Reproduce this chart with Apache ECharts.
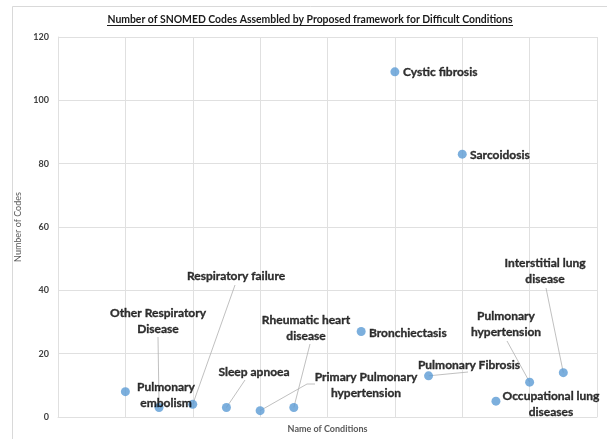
<!DOCTYPE html>
<html>
<head>
<meta charset="utf-8">
<script src="https://cdn.jsdelivr.net/npm/echarts@6/dist/echarts.min.js"></script>
<style>
  html, body { margin: 0; padding: 0; background: #fff; }
  #chart { width: 607px; height: 439px; }
</style>
</head>
<body>
<div id="chart"></div>
<script>
// values
const conditions = [
  'Pulmonary embolism', 'Other Respiratory Disease', 'Respiratory failure', 'Sleep apnoea',
  'Primary Pulmonary hypertension', 'Rheumatic heart disease', 'Bronchiectasis', 'Cystic fibrosis',
  'Pulmonary Fibrosis', 'Sarcoidosis', 'Occupational lung diseases', 'Pulmonary hypertension',
  'Interstitial lung disease'
]
const xIndex = [2, 3, 4, 5, 6, 7, 9, 10, 11, 12, 13, 14, 15]
const codes  = [8, 3, 4, 3, 2, 3, 27, 109, 13, 83, 5, 11, 14]
const labelText = [
  'Pulmonary\nembolism', 'Other Respiratory\nDisease', 'Respiratory failure', 'Sleep apnoea',
  'Primary Pulmonary\nhypertension', 'Rheumatic heart\ndisease', 'Bronchiectasis', 'Cystic fibrosis',
  'Pulmonary Fibrosis', 'Sarcoidosis', 'Occupational lung\ndiseases', 'Pulmonary\nhypertension',
  'Interstitial lung\ndisease'
]

// label anchor (px) + alignment, and leader end next to the label (null = no leader)
const labelPlace = [
  [166, 395, 'center', null],
  [158, 321, 'center', [[158, 337]]],
  [236, 276, 'center', [[235, 285]]],
  [254, 372, 'center', [[245, 380]]],
  [366, 385, 'center', [[315, 384], [307, 384]]],
  [306, 328, 'center', [[310, 344]]],
  [369, 333, 'left', null],
  [403, 72, 'left', null],
  [469, 365, 'center', [[468, 372]]],
  [470, 155, 'left', null],
  [551, 404, 'center', null],
  [506, 324, 'center', [[507, 341]]],
  [545, 271, 'center', [[546, 288]]]
]

const TITLE = 'Number of SNOMED Codes Assembled by Proposed framework for Difficult Conditions'
const FONT = 'Lato'

// fit title to the width it has in the reference
const ctx = document.createElement('canvas').getContext('2d')
ctx.font = 'bold 11px ' + FONT
const titleSize = 11 * 406 / ctx.measureText(TITLE).width

const chart = echarts.init(document.getElementById('chart'), null, { renderer: 'canvas' })

const gridColor = '#e0e0e0'

const baseGraphic = [
  {
    type: 'rect', silent: true,
    shape: { x: 12.5, y: 6.5, width: 640, height: 480 },
    style: { fill: 'none', stroke: '#d9d9d9', lineWidth: 1 }
  },
  {
    type: 'text', x: 310, y: 20,
    style: {
      text: TITLE, fontFamily: FONT, fontWeight: 'bold', fontSize: titleSize,
      fill: '#1a1a1a', align: 'center', verticalAlign: 'middle'
    }
  },
  {
    type: 'line', silent: true,
    shape: { x1: 107, y1: 25.5, x2: 513, y2: 25.5 },
    style: { stroke: '#1a1a1a', lineWidth: 1 }
  }
]

chart.setOption({
  backgroundColor: '#fff',
  animation: false,
  textStyle: { fontFamily: FONT },
  grid: { left: 58, right: 10, top: 37, bottom: 21 },
  graphic: baseGraphic,
  xAxis: {
    type: 'value', min: 0, max: 16, interval: 2,
    name: 'Name of Conditions', nameLocation: 'middle', nameGap: 8,
    nameTextStyle: { fontSize: 9, color: '#595959', fontWeight: 'bold' },
    axisLine: { show: true, lineStyle: { color: gridColor } },
    axisTick: { show: false },
    axisLabel: { show: false },
    splitLine: { show: true, lineStyle: { color: gridColor, width: 1 } }
  },
  yAxis: {
    type: 'value', min: 0, max: 120, interval: 20,
    name: 'Number of Codes', nameLocation: 'middle', nameGap: 28,
    nameTextStyle: { fontSize: 9, color: '#595959' },
    axisLine: { show: true, lineStyle: { color: gridColor } },
    axisTick: { show: false },
    axisLabel: { fontSize: 9, color: '#404040', margin: 9, fontWeight: 'bold' },
    splitLine: { show: true, lineStyle: { color: gridColor, width: 1 } }
  },
  series: [{
    type: 'scatter',
    symbolSize: 9,
    z: 3,
    itemStyle: { color: '#5b9bd5' },
    data: conditions.map((name, i) => ({ name, value: [xIndex[i], codes[i]] })),
    label: {
      show: true,
      formatter: p => labelText[p.dataIndex],
      fontFamily: FONT,
      fontWeight: 'bold',
      fontSize: 12,
      lineHeight: 16,
      color: '#000',
      textBorderColor: '#000',
      textBorderWidth: 0.35
    },
    labelLayout: p => {
      const pl = labelPlace[p.dataIndex]
      return { x: pl[0], y: pl[1], align: pl[2], verticalAlign: 'middle' }
    }
  }]
})

// leader lines: from beside the label to the marker, marker position from the axes
const leaders = []
labelPlace.forEach((pl, i) => {
  if (!pl[3]) return
  const pt = chart.convertToPixel({ seriesIndex: 0 }, [xIndex[i], codes[i]])
  leaders.push({
    type: 'polyline', silent: true, z: 1,
    shape: { points: pl[3].concat([pt]) },
    style: { fill: 'none', stroke: '#b0b0b0', lineWidth: 0.8 }
  })
})
chart.setOption({ graphic: baseGraphic.concat(leaders) })
</script>
</body>
</html>
